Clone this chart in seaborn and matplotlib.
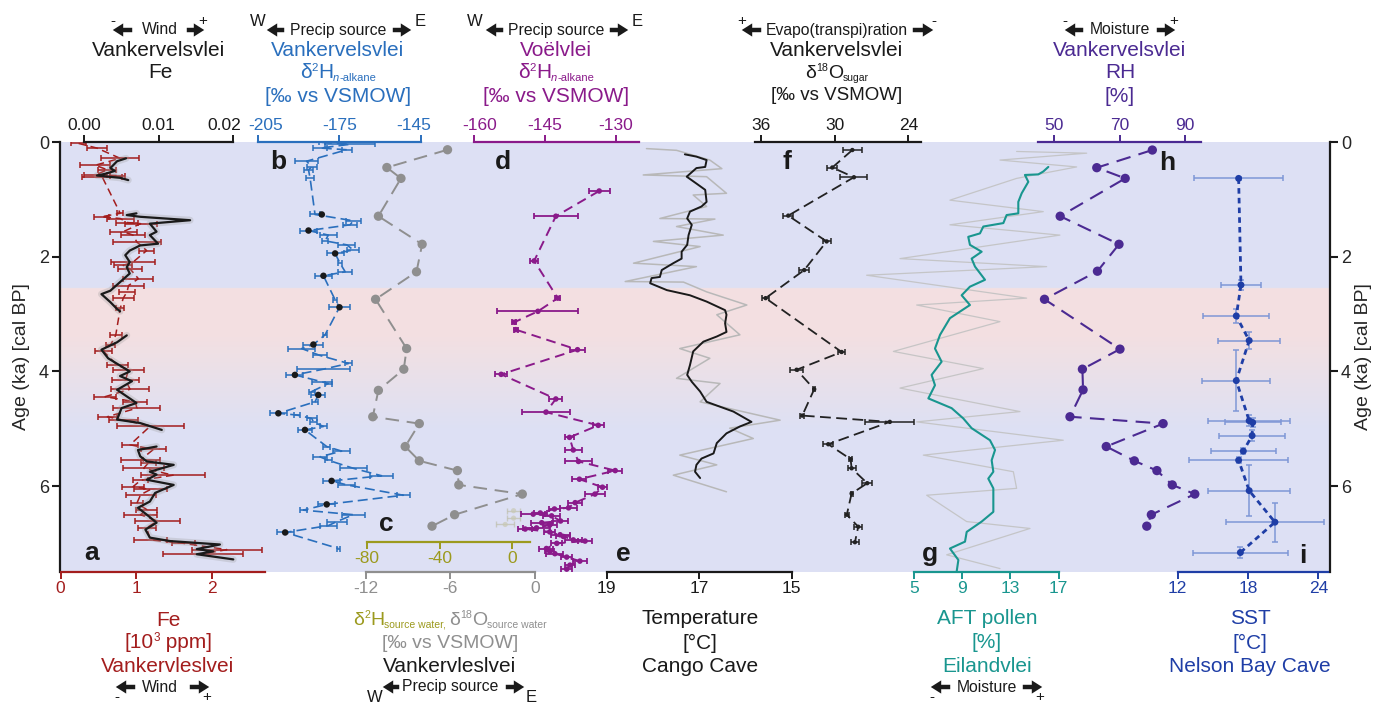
import numpy as np
import matplotlib
matplotlib.use('Agg')
import matplotlib.pyplot as plt
import matplotlib.transforms as mtransforms
import seaborn as sns
from matplotlib.patches import FancyArrowPatch

# ---------------- DATA ----------------
# (a) Fe [10^3 ppm] (red) with error bars
fe_age = [0.02, 0.10, 0.28, 0.40, 0.48, 0.57, 0.58, 0.60, 1.24, 1.30, 1.33, 1.40, 1.42, 1.56, 1.62, 1.74, 1.89,
          2.09, 2.15, 2.21, 2.38, 2.50, 2.61, 2.72, 2.90, 3.37, 3.54, 3.65, 3.89, 3.97, 4.15, 4.31, 4.44, 4.53,
          4.64, 4.79, 4.85, 4.95, 5.28, 5.36, 5.54, 5.60, 5.69, 5.81, 5.90, 6.01, 6.06, 6.15, 6.30, 6.41, 6.50,
          6.61, 6.73, 6.94, 7.00, 7.11, 7.18]
fe_val = [0.24, 0.48, 0.79, 0.46, 0.62, 0.46, 0.75, 0.55, 0.79, 0.54, 0.79, 0.88, 1.06, 0.83, 0.96, 1.01, 1.14,
          0.96, 0.83, 0.92, 1.03, 0.90, 0.88, 0.83, 0.79, 0.73, 0.66, 0.57, 0.75, 0.90, 0.86, 0.92, 0.59, 0.99,
          1.01, 0.62, 0.83, 1.19, 0.92, 1.23, 1.06, 1.16, 1.10, 1.49, 1.06, 0.96, 1.19, 1.06, 1.01, 1.14, 1.06,
          1.28, 1.14, 1.19, 1.63, 2.20, 1.89]
fe_err = [0.10, 0.13, 0.25, 0.20, 0.12, 0.15, 0.10, 0.26, 0.04, 0.10, 0.18, 0.15, 0.21, 0.18, 0.16, 0.32, 0.10,
          0.29, 0.12, 0.16, 0.20, 0.21, 0.10, 0.14, 0.05, 0.08, 0.06, 0.11, 0.14, 0.20, 0.18, 0.25, 0.15, 0.16,
          0.31, 0.13, 0.19, 0.44, 0.10, 0.16, 0.26, 0.10, 0.27, 0.42, 0.10, 0.15, 0.22, 0.20, 0.08, 0.14, 0.22,
          0.30, 0.12, 0.22, 0.15, 0.46, 0.53]
# (a) Fe XRF (black, top axis), segments
fex_seg = [1]*8 + [2]*20 + [3]*13 + [4]*22
fex_age = [0.28, 0.33, 0.45, 0.50, 0.55, 0.58, 0.62, 0.66,
           1.24, 1.27, 1.30, 1.36, 1.42, 1.56, 1.62, 1.77, 1.80, 1.89, 1.97, 2.09, 2.18, 2.29, 2.44, 2.59, 2.65,
           2.79, 2.91, 2.95,
           3.37, 3.49, 3.62, 3.77, 4.00, 4.08, 4.17, 4.32, 4.55, 4.64, 4.84, 4.90, 5.02,
           5.31, 5.37, 5.48, 5.57, 5.63, 5.75, 5.80, 5.89, 5.98, 6.12, 6.27, 6.38, 6.50, 6.64, 6.76, 6.90, 6.96,
           7.02, 7.10, 7.14, 7.19, 7.28]
fex_val = [0.0056, 0.0044, 0.0035, 0.0041, 0.0028, 0.0017, 0.0048, 0.0059,
           0.0070, 0.0057, 0.0075, 0.0142, 0.0088, 0.0097, 0.0088, 0.0099, 0.0075, 0.0061, 0.0055, 0.0061, 0.0057,
           0.0061, 0.0048, 0.0035, 0.0023, 0.0035, 0.0044, 0.0048,
           0.0057, 0.0044, 0.0023, 0.0032, 0.0061, 0.0048, 0.0064, 0.0044, 0.0070, 0.0050, 0.0044, 0.0075, 0.0104,
           0.0097, 0.0072, 0.0075, 0.0084, 0.0120, 0.0088, 0.0097, 0.0084, 0.0120, 0.0095, 0.0088, 0.0072, 0.0084,
           0.0097, 0.0082, 0.0088, 0.0115, 0.0182, 0.0151, 0.0173, 0.0151, 0.0200]

# (b) Vankervelsvlei d2H n-alkane
b_age = [0.00, 0.035, 0.10, 0.13, 0.33, 0.43, 0.48, 0.63, 1.26, 1.37, 1.44, 1.54, 1.62, 1.72, 1.79, 1.88, 1.94,
         2.11, 2.26, 2.33, 2.75, 2.88, 3.36, 3.53, 3.60, 3.72, 3.86, 3.96, 4.06, 4.18, 4.21, 4.35, 4.41, 4.53,
         4.73, 4.76, 4.82, 4.88, 4.96, 5.02, 5.31, 5.39, 5.49, 5.55, 5.69, 5.82, 5.91, 5.98, 6.16, 6.32, 6.42,
         6.50, 6.62, 6.69, 6.81, 7.09]
b_val = [-181.4, -171.0, -182.0, -172.2, -187.0, -185.1, -186.3, -185.7, -183.9, -169.8, -171.0, -186.3, -179.0,
         -180.2, -172.2, -169.8, -176.5, -174.7, -172.8, -180.8, -176.5, -174.9, -180.2, -184.5, -188.8, -182.1,
         -171.6, -180.8, -191.3, -181.4, -179.0, -185.1, -182.7, -183.9, -197.4, -190.6, -185.1, -184.5, -180.8,
         -187.6, -179.6, -174.1, -182.1, -179.0, -169.8, -159.4, -177.8, -172.2, -151.4, -179.6, -188.2, -169.8,
         -175.9, -179.0, -194.9, -175.3]
b_err = [1.2, 9.2, 2.5, 1.8, 4.3, 1.8, 1.8, 1.5, 1.8, 2.7, 2.5, 3.1, 3.1, 1.0, 3.1, 2.2, 3.1, 0.6, 2.5, 3.1, 0.6,
         3.7, 0.6, 3.7, 4.9, 2.5, 1.2, 9.8, 3.1, 3.7, 1.2, 1.2, 2.5, 1.2, 3.1, 1.2, 1.8, 1.2, 1.2, 2.5, 1.2, 3.1,
         2.5, 1.2, 4.9, 4.3, 3.1, 3.1, 2.5, 3.1, 1.2, 4.3, 3.7, 3.1, 3.1, 0.6]
b_mean_age = [1.26, 1.54, 1.94, 2.33, 2.88, 3.53, 4.06, 4.41, 4.73, 5.02, 5.91, 6.32, 6.81]
b_mean_val = [-181.4, -186.3, -176.5, -180.8, -174.9, -184.5, -191.3, -182.7, -197.4, -187.6, -177.8, -179.6, -194.9]

# (c) d18O source water (grey) and d2H source water (olive)
c_age = [0.13, 0.44, 0.63, 1.29, 1.78, 2.26, 2.74, 3.60, 3.96, 4.33, 4.79, 4.91, 5.31, 5.56, 5.73, 5.98, 6.14,
         6.50, 6.70]
c_val = [-6.2, -10.5, -9.5, -11.1, -8.0, -8.4, -11.3, -9.1, -9.3, -11.1, -11.5, -8.2, -9.2, -8.2, -5.5, -5.4,
         -0.9, -5.7, -7.3]
c2_age = [6.43, 6.56, 6.67]
c2_val = [0.7, 0.7, -3.9]
c2_err = [3.7, 3.7, 5.0]

# (d) Voelvlei d2H n-alkane
d_age = [0.85, 1.29, 2.07, 2.72, 2.95, 3.14, 3.27, 3.62, 4.05, 4.48, 4.71, 4.94, 5.15, 5.37, 5.57, 5.73, 5.88,
         6.02, 6.14, 6.29, 6.38, 6.40, 6.47, 6.49, 6.52, 6.61, 6.64, 6.68, 6.73, 6.75, 6.80, 6.85, 6.88, 6.94,
         6.96, 7.00, 7.09, 7.14, 7.18, 7.24, 7.31, 7.38, 7.45]
d_val = [-133.5, -142.7, -147.3, -142.3, -146.5, -151.5, -151.2, -138.1, -154.3, -142.7, -144.8, -133.7, -139.8,
         -139.0, -137.9, -130.1, -137.7, -132.8, -134.4, -138.6, -140.0, -143.0, -146.0, -147.5, -143.6, -141.7,
         -145.7, -144.0, -146.8, -149.2, -144.0, -141.8, -141.1, -139.0, -136.5, -142.5, -144.7, -144.0, -142.9,
         -140.4, -137.6, -139.7, -140.4]
d_err = [2.2, 4.6, 0.8, 0.5, 8.6, 0.4, 0.4, 1.6, 1.3, 1.4, 5.1, 1.2, 0.9, 1.8, 2.8, 1.5, 1.5, 0.9, 2.1, 1.5, 1.8,
         1.2, 1.4, 2.5, 1.8, 1.5, 2.2, 1.5, 2.8, 1.5, 1.2, 2.0, 1.5, 1.8, 1.5, 1.2, 1.5, 1.0, 1.8, 1.2, 1.5, 1.0,
         1.2]

# (e) Cango Cave temperature: smoothed (black) and raw (grey)
e_age = [0.21, 0.25, 0.31, 0.43, 0.45, 0.60, 0.72, 0.83, 1.04, 1.12, 1.21, 1.33, 1.44, 1.62, 1.79, 1.91, 2.03,
         2.11, 2.23, 2.35, 2.37, 2.46, 2.58, 2.67, 2.78, 2.93, 3.01, 3.16, 3.31, 3.39, 3.48, 3.65, 3.89, 4.06,
         4.18, 4.35, 4.53, 4.70, 4.88, 4.96, 5.08, 5.25, 5.43, 5.52, 5.63, 5.75, 5.86]
e_val = [17.31, 17.06, 16.84, 16.87, 17.06, 17.27, 17.06, 16.87, 16.84, 16.95, 17.20, 17.26, 17.16, 17.23, 17.26,
         17.38, 17.38, 17.56, 17.81, 17.85, 18.03, 18.06, 17.70, 17.20, 16.84, 16.44, 16.41, 16.44, 16.41, 16.62,
         16.91, 17.13, 17.20, 17.26, 17.16, 16.98, 16.84, 16.26, 15.87, 16.12, 16.41, 16.62, 16.69, 16.95, 17.06,
         17.09, 16.98]
e_raw_age = [0.11, 0.14, 0.31, 0.46, 0.57, 0.60, 0.89, 0.92, 1.12, 1.33, 1.34, 1.47, 1.62, 1.73, 1.82, 2.11, 2.17,
             2.43, 2.44, 2.61, 2.84, 3.01, 3.36, 3.60, 3.77, 4.12, 4.21, 4.53, 4.85, 4.99, 5.17, 5.46, 5.63, 5.81,
             6.10]
e_raw_val = [18.14, 17.49, 16.77, 16.51, 18.21, 16.84, 16.41, 17.13, 16.84, 17.85, 16.66, 17.49, 16.48, 17.99,
             16.98, 18.42, 17.06, 18.60, 17.34, 16.84, 15.97, 16.62, 16.12, 17.42, 16.77, 17.49, 16.55, 16.98,
             15.25, 16.34, 15.83, 17.42, 16.62, 17.56, 16.41]

# (f) Vankervelsvlei d18O sugar
f_age = [0.135, 0.44, 0.61, 1.28, 1.73, 2.23, 2.72, 3.66, 3.97, 4.31, 4.77, 4.88, 5.27, 5.53, 5.69, 5.95, 6.13,
         6.50, 6.71, 6.98]
f_val = [28.55, 30.18, 28.42, 33.76, 30.64, 32.46, 35.60, 29.42, 33.08, 31.65, 32.62, 25.50, 30.51, 28.69, 28.61,
         27.34, 28.61, 29.00, 28.07, 28.34]
f_err = [0.75, 0.40, 1.10, 0.40, 0.33, 0.40, 0.27, 0.27, 0.50, 0.08, 0.16, 2.00, 0.40, 0.14, 0.33, 0.40, 0.08,
         0.16, 0.33, 0.33]

# (g) Eilandvlei AFT pollen: smoothed (teal) and raw (grey)
g_age = [0.43, 0.51, 0.56, 0.57, 0.69, 0.89, 1.04, 1.24, 1.27, 1.41, 1.47, 1.59, 1.65, 1.79, 1.91, 2.03, 2.17,
         2.40, 2.52, 2.67, 2.84, 3.07, 3.36, 3.60, 3.83, 4.06, 4.24, 4.47, 4.64, 4.82, 4.99, 5.20, 5.37, 5.55,
         5.75, 5.87, 6.04, 6.45, 6.62, 6.80, 6.97, 7.09, 7.29, 7.49]
g_val = [16.14, 15.72, 15.31, 14.20, 14.48, 13.93, 13.65, 13.65, 12.68, 12.41, 10.75, 10.47, 9.50, 9.64, 10.61,
         9.78, 10.06, 10.89, 9.64, 8.95, 9.64, 7.98, 7.16, 6.74, 7.29, 6.46, 6.74, 6.19, 8.12, 9.09, 9.78, 11.30,
         11.72, 11.44, 11.58, 11.16, 11.58, 11.58, 10.61, 9.37, 9.23, 7.98, 8.68, 8.54]
g_raw_age = [0.16, 0.19, 0.31, 0.43, 0.63, 1.01, 1.21, 1.44, 1.62, 2.03, 2.17, 2.32, 2.72, 2.84, 3.13, 3.65, 3.95,
             4.29, 4.70, 4.88, 5.20, 5.46, 5.75, 6.04, 6.16, 6.62, 6.74, 7.20, 7.44]
g_raw_val = [13.51, 19.32, 12.13, 18.49, 13.51, 7.98, 15.72, 7.98, 17.10, 3.84, 16.00, 1.07, 14.34, 5.22, 12.13,
             3.29, 10.75, 3.84, 13.79, 5.22, 17.38, 5.77, 13.24, 13.51, 6.05, 9.37, 14.62, 7.71, 12.13]

# (h) Vankervelsvlei RH
h_age = [0.135, 0.443, 0.63, 1.29, 1.78, 2.25, 2.74, 3.61, 3.96, 4.32, 4.79, 4.91, 5.31, 5.56, 5.73, 5.98, 6.14,
         6.50, 6.70]
h_val = [80.0, 63.0, 71.7, 51.8, 69.8, 63.2, 47.0, 70.1, 58.6, 58.8, 54.8, 83.3, 65.9, 74.5, 81.4, 86.1, 93.0,
         79.7, 78.3]

# (i) Nelson Bay Cave SST
i_age = [0.63, 2.49, 3.03, 3.46, 4.16, 4.86, 4.89, 5.12, 5.39, 5.55, 6.08, 6.63, 7.16]
i_val = [17.2, 17.4, 17.0, 18.1, 17.0, 18.1, 18.4, 18.35, 17.6, 17.2, 18.1, 20.3, 17.35]
i_xerr = [3.8, 1.7, 2.8, 2.65, 2.9, 3.5, 2.4, 2.85, 2.8, 4.2, 3.5, 4.2, 4.05]
i_yerr = [0.02, 0.08, 0.12, 0.15, 0.53, 0.10, 0.08, 0.10, 0.05, 0.05, 0.45, 0.34, 0.10]

age_ticks = [0, 2, 4, 6]

# ---------------- STYLE ----------------
sns.set_theme(style='ticks')
plt.rcParams['font.family'] = ['Liberation Sans', 'DejaVu Sans']
plt.rcParams['mathtext.fontset'] = 'custom'
plt.rcParams['mathtext.rm'] = 'Liberation Sans'
plt.rcParams['mathtext.it'] = 'Liberation Sans:italic'
plt.rcParams['mathtext.bf'] = 'Liberation Sans:bold'
plt.rcParams['axes.unicode_minus'] = False

RED = '#a31d1d'
BLUE_B = '#2a6fbd'
GREY = '#8f8f8f'
OLIVE = '#9c9a1e'
PURP_D = '#8a1a8a'
TEAL = '#19968f'
PURP_H = '#4b2a92'
BLUE_I = '#1f3ea6'

W, H = 1378, 703
fig = plt.figure(figsize=(W / 100, H / 100), dpi=100)
PXL, PXR, PYT, PYB = 60, 1330, 142.3, 572
rect = [PXL / W, 1 - PYB / H, (PXR - PXL) / W, (PYB - PYT) / H]


def fx(x):
    return x / W


def fy(y):
    return 1 - y / H


# base axes with background
ax0 = fig.add_axes(rect)
bg_age = np.linspace(0, 7.5, 751)
blue = np.array([0.867, 0.882, 0.957])
pink = np.array([0.953, 0.878, 0.886])
wgt = np.zeros_like(bg_age)
wgt[(bg_age >= 2.55) & (bg_age < 3.4)] = 1
msk = (bg_age >= 3.4) & (bg_age < 5.0)
wgt[msk] = 1 - (bg_age[msk] - 3.4) / 1.6
img = blue[None, :] * (1 - wgt[:, None]) + pink[None, :] * wgt[:, None]
ax0.imshow(img[:, None, :], extent=[0, 1, 7.5, 0], aspect='auto', interpolation='bilinear')
ax0.set_xlim(0, 1)
ax0.set_ylim(7.5, 0)
ax0.set_xticks([])
ax0.set_yticks(age_ticks)
ax0.set_yticklabels([str(a) for a in age_ticks])
ax0.tick_params(axis='y', left=True, right=True, labelleft=True, labelright=True, labelsize=13,
                length=6, width=1.5, color='k', pad=2)
ax0.spines['top'].set_visible(False)
ax0.spines['bottom'].set_visible(False)
for s in ('left', 'right'):
    ax0.spines[s].set_color('k')
    ax0.spines[s].set_linewidth(1.6)
fig.text(fx(22), fy(357), 'Age (ka) [cal BP]', rotation=90, ha='center', va='center', fontsize=14)
fig.text(fx(1363), fy(357), 'Age (ka) [cal BP]', rotation=90, ha='center', va='center', fontsize=14)

axes_lims = []


def panel(px1, v1, px2, v2, side, bounds, ticks, labels, color, pos=None):
    ax = fig.add_axes(rect, facecolor='none')
    s = (v2 - v1) / (px2 - px1)
    lim = (v1 + (PXL - px1) * s, v1 + (PXR - px1) * s)
    ax.set_xlim(*lim)
    ax.set_ylim(7.5, 0)
    ax.set_yticks([])
    for sp in ax.spines.values():
        sp.set_visible(False)
    sp = ax.spines[side]
    sp.set_visible(True)
    sp.set_bounds(*bounds)
    sp.set_color(color)
    sp.set_linewidth(1.6)
    if pos is not None:
        sp.set_position(('axes', pos))
    ax.xaxis.set_ticks_position(side)
    ax.set_xticks(ticks)
    ax.set_xticklabels(labels)
    ax.tick_params(axis='x', colors=color, labelsize=12.5, length=5, width=1.4, pad=1.5, direction='out')
    ax.patch.set_visible(False)
    axes_lims.append((ax, lim))
    return ax


def shift_label(ax, idx, dx):
    off = mtransforms.ScaledTranslation(dx / 100, 0, fig.dpi_scale_trans)
    t = ax.xaxis.get_major_ticks()[idx]
    for lab in (t.label1, t.label2):
        lab.set_transform(lab.get_transform() + off)


def ebar(ax, x, y, xerr, color, lw=1.0, cap=2.5, alpha=1.0, yerr=None):
    ax.errorbar(x, y, xerr=xerr, yerr=yerr, fmt='none', ecolor=color, elinewidth=lw, capsize=cap,
                capthick=lw, alpha=alpha, zorder=2)


# (a) red Fe
axa = panel(60.5, 0, 211.7, 2, 'bottom', (0, 2.70), [0, 1, 2], ['0', '1', '2'], RED)
ebar(axa, fe_val, fe_age, fe_err, RED, lw=1.1)
sns.lineplot(x=fe_val, y=fe_age, sort=False, estimator=None, ax=axa, color=RED, lw=1.1,
             linestyle=(0, (5, 3)), zorder=2)
# (a) black Fe XRF (top axis)
axa2 = panel(84.3, 0.0, 233.3, 0.02, 'top', (0, 0.02), [0, 0.01, 0.02], ['0.00', '0.01', '0.02'], 'k')
sns.lineplot(x=fex_val, y=fex_age, units=fex_seg, sort=False, estimator=None, ax=axa2, color='#9a9a9a',
             lw=5, alpha=0.28, zorder=1)
sns.lineplot(x=fex_val, y=fex_age, units=fex_seg, sort=False, estimator=None, ax=axa2, color='k', lw=1.6,
             zorder=3)

# (b) blue d2H
axb = panel(257.7, -205, 420.7, -145, 'top', (-205, -145), [-205, -175, -145], ['-205', '-175', '-145'], BLUE_B)
ebar(axb, b_val, b_age, b_err, BLUE_B, lw=1.1, cap=2.2)
sns.lineplot(x=b_val, y=b_age, sort=False, estimator=None, ax=axb, color=BLUE_B, lw=1.2,
             linestyle=(0, (6, 3)), zorder=2)
sns.scatterplot(x=b_mean_val, y=b_mean_age, ax=axb, color='k', s=22, edgecolor='none', zorder=4)

# (c) grey d18O source water, olive d2H source water
axc = panel(365.7, -12, 535, 0, 'bottom', (-12, 0), [-12, -6, 0], ['-12', '-6', '0'], GREY)
sns.lineplot(x=c_val, y=c_age, sort=False, estimator=None, ax=axc, color=GREY, lw=1.4,
             linestyle=(0, (7, 4)), zorder=2)
sns.scatterplot(x=c_val, y=c_age, ax=axc, color=GREY, s=45, edgecolor='none', zorder=3)
axc2 = panel(367, -80, 512.3, 0, 'bottom', (-80, 10), [-80, -40, 0], ['-80', '-40', '0'], OLIVE,
             pos=(PYB - 542.3) / (PYB - PYT))
ebar(axc2, c2_val, c2_age, c2_err, '#b9b9a0', lw=1.0, alpha=0.6)
sns.scatterplot(x=c2_val, y=c2_age, ax=axc2, color='#c8c8b4', s=14, edgecolor='none', alpha=0.7, zorder=2)

# (d) purple Voelvlei
axd = panel(474.3, -160, 615.7, -130, 'top', (-160, -125), [-160, -145, -130], ['-160', '-145', '-130'], PURP_D)
ebar(axd, d_val, d_age, d_err, PURP_D, lw=1.3, cap=2.5)
sns.lineplot(x=d_val, y=d_age, sort=False, estimator=None, ax=axd, color=PURP_D, lw=1.4,
             linestyle=(0, (5, 3)), zorder=2)
sns.scatterplot(x=d_val, y=d_age, ax=axd, color=PURP_D, s=16, edgecolor='none', zorder=3)

# (e) Cango Cave temperature
axe = panel(606.7, 19, 791.7, 15, 'bottom', (19, 15), [19, 17, 15], ['19', '17', '15'], 'k')
sns.lineplot(x=e_raw_val, y=e_raw_age, sort=False, estimator=None, ax=axe, color='#b8b8b8', lw=1.1, zorder=1)
sns.lineplot(x=e_val, y=e_age, sort=False, estimator=None, ax=axe, color='k', lw=1.4, zorder=2)

# (f) d18O sugar
axf = panel(760.7, 36, 908.3, 24, 'top', (36.5, 23), [36, 30, 24], ['36', '30', '24'], 'k')
ebar(axf, f_val, f_age, f_err, '#222222', lw=1.1, cap=2.5)
sns.lineplot(x=f_val, y=f_age, sort=False, estimator=None, ax=axf, color='#222222', lw=1.3,
             linestyle=(0, (6, 3)), zorder=2)
sns.scatterplot(x=f_val, y=f_age, ax=axf, color='#222222', s=10, edgecolor='none', zorder=3)

# (g) AFT pollen
axg = panel(914, 5, 1058.7, 17, 'bottom', (5, 17), [5, 9, 13, 17], ['5', '9', '13', '17'], TEAL)
sns.lineplot(x=g_raw_val, y=g_raw_age, sort=False, estimator=None, ax=axg, color='#c2c2c2', lw=0.9,
             alpha=0.9, zorder=1)
sns.lineplot(x=g_val, y=g_age, sort=False, estimator=None, ax=axg, color=TEAL, lw=1.5, zorder=2)

# (h) RH
axh = panel(1054.3, 50, 1185, 90, 'top', (45, 95), [50, 70, 90], ['50', '70', '90'], PURP_H)
sns.lineplot(x=h_val, y=h_age, sort=False, estimator=None, ax=axh, color=PURP_H, lw=1.5,
             linestyle=(0, (7, 4)), zorder=2)
sns.scatterplot(x=h_val, y=h_age, ax=axh, color=PURP_H, s=45, edgecolor='none', zorder=3)

# (i) SST
axi = panel(1177.7, 12, 1318.3, 24, 'bottom', (12, 24.8), [12, 18, 24], ['12', '18', '24'], BLUE_I)
ebar(axi, i_val, i_age, i_xerr, '#7f97d6', lw=1.1, cap=2.5, yerr=i_yerr)
sns.lineplot(x=i_val, y=i_age, sort=False, estimator=None, ax=axi, color=BLUE_I, lw=2.0,
             linestyle=(0, (2, 1.5)), zorder=2)
sns.scatterplot(x=i_val, y=i_age, ax=axi, color=BLUE_I, s=25, edgecolor='none', zorder=3)

for ax, lim in axes_lims:
    ax.set_xlim(*lim)
    ax.set_ylim(7.5, 0)
    ax.set_xlabel('')
    ax.set_ylabel('')
    leg = ax.get_legend()
    if leg is not None:
        leg.remove()

# tick-label offsets as in the reference (labels not centred on end ticks)
shift_label(axa2, 2, -9)
shift_label(axb, 0, 8)
shift_label(axb, 2, -7)
shift_label(axd, 0, 5)


# ---------------- TEXT ----------------
def T(x, y, s, size=15, color='k', **kw):
    fig.text(fx(x), fy(y), s, ha=kw.pop('ha', 'center'), va='center', fontsize=size, color=color, **kw)


renderer = fig.canvas.get_renderer()


def rich(x, y, parts, align='center'):
    """parts: (text, size, dy_px (down positive), color, style); y = visual centre of main text."""
    base = y + 5.2
    objs = []
    for s, size, dy, color, style in parts:
        t = fig.text(0, 0, s, fontsize=size, color=color, style=style, va='baseline', ha='left')
        objs.append((t, dy, t.get_window_extent(renderer).width))
    total = sum(w for _, _, w in objs)
    x0 = {'center': x - total / 2, 'left': x, 'right': x - total}[align]
    for t, dy, w in objs:
        t.set_position((fx(x0), fy(base + dy)))
        x0 += w


def arrow(x_tail, x_head, y):
    fig.add_artist(FancyArrowPatch((fx(x_tail), fy(y)), (fx(x_head), fy(y)), transform=fig.transFigure,
                                   arrowstyle='simple,head_length=0.75,head_width=0.95,tail_width=0.32',
                                   mutation_scale=10, color='k', lw=0))


def delta_parts(sup, sym, sub, color, size=15, sub_size=8, italic_n=False):
    p = [('δ', size, 0, color, 'normal'), (sup, size * 0.55, -7, color, 'normal'), (sym, size, 0, color, 'normal')]
    if italic_n:
        p += [('n', sub_size, 3, color, 'italic'), (sub, sub_size, 3, color, 'normal')]
    else:
        p += [(sub, sub_size, 3, color, 'normal')]
    return p


AR = 11.3  # arrow-row font size

# panel letters
for lt, x, y in [('a', 92, 553), ('b', 278, 162), ('c', 386, 524), ('d', 503, 162), ('e', 623, 554),
                 ('f', 787, 162), ('g', 930, 554), ('h', 1167, 163), ('i', 1303, 556)]:
    T(x, y, lt, size=19, fontweight='bold')

# top headers
T(160, 30, 'Wind', AR); arrow(135, 110, 30); arrow(184, 207, 30)
T(113, 21, '-', 11); T(203, 21, '+', 11)
T(159, 50, 'Vankervelsvlei'); T(160, 73, 'Fe')

T(338, 30, 'Precip source', AR); arrow(287, 264, 30); arrow(390, 414, 30)
T(258, 22, 'W', 12); T(420, 21, 'E', 12)
T(338, 50, 'Vankervelsvlei', color=BLUE_B)
rich(338, 73, delta_parts('2', 'H', '-alkane', BLUE_B, italic_n=True))
T(338, 96, '[‰ vs VSMOW]', color=BLUE_B)

T(556, 30, 'Precip source', AR); arrow(506, 483, 30); arrow(607, 631, 30)
T(475, 22, 'W', 12); T(637, 21, 'E', 12)
T(556, 50, 'Voëlvlei', color=PURP_D)
rich(556, 73, delta_parts('2', 'H', '-alkane', PURP_D, italic_n=True))
T(556, 96, '[‰ vs VSMOW]', color=PURP_D)

T(837, 30, 'Evapo(transpi)ration', AR); arrow(764, 739, 30); arrow(910, 936, 30)
T(742, 21, '+', 11); T(934, 21, '-', 11)
T(837, 50, 'Vankervelsvlei')
rich(837, 73, delta_parts('18', 'O', 'sugar', 'k', size=14, sub_size=7.5))
T(837, 96, '[‰ vs VSMOW]', 13.5)

T(1120, 30, 'Moisture', AR); arrow(1086, 1062, 30); arrow(1154, 1178, 30)
T(1065, 21, '-', 11); T(1174, 21, '+', 11)
T(1120, 50, 'Vankervelsvlei', color=PURP_H); T(1120, 73, 'RH', color=PURP_H)
T(1120, 96, '[%]', color=PURP_H)

# bottom headers
T(168, 620, 'Fe', color=RED)
rich(168, 643, [('[10', 15, 0, RED, 'normal'), ('3', 8.5, -7, RED, 'normal'), (' ppm]', 15, 0, RED, 'normal')])
T(168, 667, 'Vankervleslvei', color=RED)
T(160, 687, 'Wind', AR); arrow(138, 113, 687); arrow(187, 212, 687)
T(117, 697, '-', 11); T(207, 697, '+', 11)

rich(446, 620, delta_parts('2', 'H', 'source water,', OLIVE, size=14, sub_size=7.5), align='right')
rich(449, 620, delta_parts('18', 'O', 'source water', GREY, size=14, sub_size=7.5), align='left')
T(450, 643, '[‰ vs VSMOW]', 14, color=GREY)
T(450, 667, 'Vankervleslvei')
T(450, 687, 'Precip source', AR); arrow(402, 380, 687); arrow(503, 527, 687)
T(375, 697, 'W', 12); T(531, 697, 'E', 12)

T(700, 619, 'Temperature'); T(700, 643, '[°C]'); T(700, 667, 'Cango Cave')

T(987, 619, 'AFT pollen', color=TEAL); T(987, 643, '[%]', color=TEAL); T(987, 667, 'Eilandvlei', color=TEAL)
T(987, 687, 'Moisture', AR); arrow(953, 928, 687); arrow(1020, 1045, 687)
T(932, 697, '-', 11); T(1040, 697, '+', 11)

T(1250, 619, 'SST', color=BLUE_I); T(1250, 643, '[°C]', color=BLUE_I)
T(1250, 667, 'Nelson Bay Cave', color=BLUE_I)

fig.savefig('out.png', dpi=100, facecolor='white')
